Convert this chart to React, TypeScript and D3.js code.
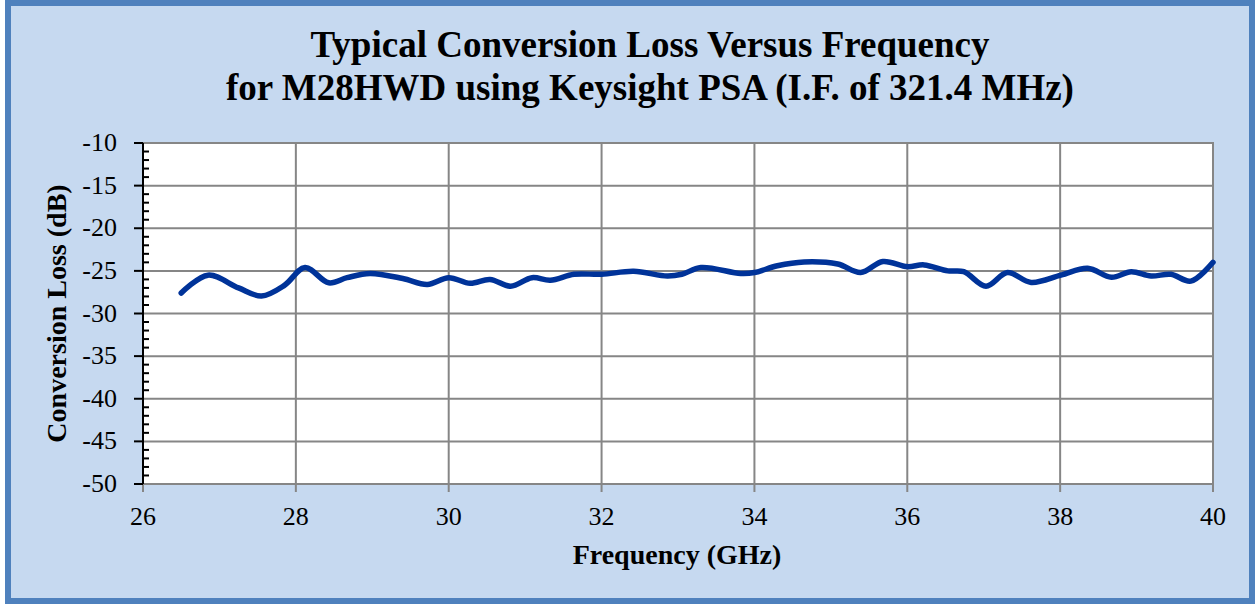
import React from 'react';
import * as d3 from 'd3';

// frequency (GHz) and conversion loss (dB)
const freqGHz = [
  26.5, 26.85, 27.25, 27.55, 27.85, 28.12, 28.43, 28.67, 28.97, 29.4, 29.72,
  30.0, 30.28, 30.54, 30.81, 31.09, 31.33, 31.64, 32.0, 32.42, 32.86, 33.05,
  33.3, 33.82, 34.0, 34.3, 34.65, 35.09, 35.39, 35.68, 36.0, 36.22, 36.53,
  36.74, 37.03, 37.31, 37.62, 38.01, 38.36, 38.67, 38.93, 39.19, 39.45, 39.71,
  40.0,
];
const lossDb = [
  -27.6, -25.5, -27.0, -27.95, -26.7, -24.6, -26.4, -25.8, -25.3, -25.9, -26.6,
  -25.8, -26.45, -26.0, -26.8, -25.8, -26.1, -25.4, -25.4, -25.05, -25.6, -25.4,
  -24.6, -25.3, -25.2, -24.4, -23.95, -24.2, -25.2, -23.9, -24.5, -24.3, -25.0,
  -25.1, -26.8, -25.2, -26.35, -25.5, -24.7, -25.75, -25.1, -25.6, -25.4, -26.2,
  -24.0,
];
const xTicks = [26, 28, 30, 32, 34, 36, 38, 40];
const yTicks = [-10, -15, -20, -25, -30, -35, -40, -45, -50];
const titleLines = [
  'Typical Conversion Loss Versus Frequency',
  'for M28HWD using Keysight PSA (I.F. of 321.4 MHz)',
];

const W = 1255;
const H = 604;
const plot = { left: 143, right: 1213, top: 143, bottom: 484 };
const font = '"Liberation Serif", "Times New Roman", serif';

const App: React.FC = () => {
  const x = d3.scaleLinear().domain([26, 40]).range([plot.left, plot.right]);
  const y = d3.scaleLinear().domain([-50, -10]).range([plot.bottom, plot.top]);

  const pts: [number, number][] = freqGHz.map((f, i) => [f, lossDb[i]]);
  const line = d3
    .line<[number, number]>()
    .x((d) => x(d[0]))
    .y((d) => y(d[1]))
    .curve(d3.curveCatmullRom.alpha(0.5));

  // minor ticks every 1 dB
  const minor = d3.range(-50, -9, 1).filter((v) => v % 5 !== 0);

  return (
    <svg
      width={W}
      height={H}
      style={{ position: 'absolute', left: 0, top: 0, display: 'block' }}
    >
      <rect x={8} y={3} width={W - 11} height={H - 6} fill='#c6d9f0' stroke='#4f81bd' strokeWidth={6} />

      {titleLines.map((t, i) => (
        <text
          key={i}
          x={650}
          y={57 + i * 43}
          textAnchor='middle'
          fontFamily={font}
          fontWeight='bold'
          fontSize={37}
          fill='#000'
        >
          {t}
        </text>
      ))}

      <rect
        x={plot.left}
        y={plot.top}
        width={plot.right - plot.left}
        height={plot.bottom - plot.top}
        fill='#fff'
        stroke='#868686'
        strokeWidth={2}
      />

      {/* grid */}
      {yTicks.map((v) => (
        <line key={'gy' + v} x1={plot.left} x2={plot.right} y1={y(v)} y2={y(v)} stroke='#868686' strokeWidth={2} />
      ))}
      {xTicks.map((v) => (
        <line key={'gx' + v} x1={x(v)} x2={x(v)} y1={plot.top} y2={plot.bottom + 8} stroke='#868686' strokeWidth={2} />
      ))}

      {/* y axis */}
      <line x1={plot.left} x2={plot.left} y1={plot.top} y2={plot.bottom} stroke='#000' strokeWidth={2} />
      {yTicks.map((v) => (
        <line key={'ty' + v} x1={plot.left - 9} x2={plot.left} y1={y(v)} y2={y(v)} stroke='#000' strokeWidth={2} />
      ))}
      {minor.map((v) => (
        <line key={'my' + v} x1={plot.left} x2={plot.left + 6} y1={y(v)} y2={y(v)} stroke='#000' strokeWidth={2} />
      ))}
      {yTicks.map((v) => (
        <text
          key={'ly' + v}
          x={plot.left - 26}
          y={y(v) + 8}
          textAnchor='end'
          fontFamily={font}
          fontSize={26}
          fill='#000'
        >
          {v}
        </text>
      ))}
      {xTicks.map((v) => (
        <text key={'lx' + v} x={x(v)} y={525} textAnchor='middle' fontFamily={font} fontSize={26} fill='#000'>
          {v}
        </text>
      ))}

      <path d={line(pts) ?? ''} fill='none' stroke='#003399' strokeWidth={5.5} strokeLinejoin='round' strokeLinecap='round' />

      <text x={677} y={564} textAnchor='middle' fontFamily={font} fontWeight='bold' fontSize={28} fill='#000'>
        Frequency (GHz)
      </text>
      <text
        transform={`translate(66,${(plot.top + plot.bottom) / 2}) rotate(-90)`}
        textAnchor='middle'
        fontFamily={font}
        fontWeight='bold'
        fontSize={28}
        fill='#000'
      >
        Conversion Loss (dB)
      </text>
    </svg>
  );
};

export default App;
